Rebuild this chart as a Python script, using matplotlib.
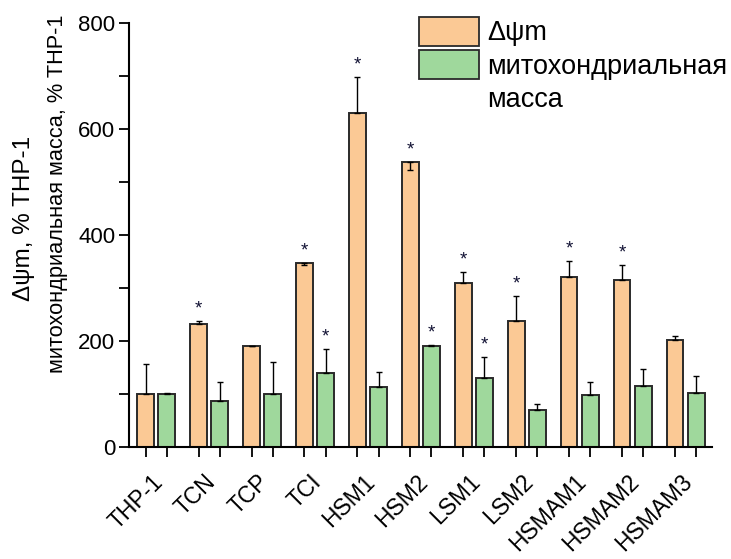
import matplotlib
matplotlib.use("Agg")
import matplotlib.pyplot as plt
import matplotlib.transforms as mtransforms
from matplotlib.patches import Rectangle
import numpy as np

plt.rcParams['font.family'] = ['Liberation Sans', 'DejaVu Sans']

categories = ["THP-1", "TCN", "TCP", "TCI", "HSM1", "HSM2", "LSM1", "LSM2",
              "HSMAM1", "HSMAM2", "HSMAM3"]
dpsi = [100, 232, 190, 348, 630, 538, 310, 238, 320, 315, 201]
dpsi_err_up = [56, 6, 0, 0, 68, 0, 20, 46, 31, 28, 8]
dpsi_err_down = [0, 0, 0, 5, 0, 16, 0, 0, 0, 0, 0]
mass = [100, 86, 100, 140, 113, 191, 130, 70, 98, 115, 101]
mass_err_up = [1, 36, 60, 44, 29, 1, 39, 11, 24, 31, 32]
mass_err_down = [0, 0, 0, 0, 0, 0, 0, 0, 0, 0, 0]
sig_dpsi = [False, True, False, True, True, True, True, True, True, True, False]
sig_mass = [False, False, False, True, False, True, True, False, False, False, False]

label_dpsi = "Δψm"
label_mass = "митохондриальная\nмасса"
ylabel_lines = ["Δψm, % THP-1", "митохондриальная масса, % THP-1"]

c_or = "#FBC995"
c_gr = "#9FD89C"
edge = "#2a2a2a"

fig = plt.figure(figsize=(7.31, 5.59), dpi=100)
ax = fig.add_axes([129.3 / 731, 1 - 446.7 / 559, (712 - 129.3) / 731, (446.7 - 23.3) / 559])

x = np.arange(len(categories))
w = 0.317
off = 0.2
ax.bar(x - off, dpsi, w, color=c_or, edgecolor=edge, linewidth=1.4, zorder=2)
ax.bar(x + off, mass, w, color=c_gr, edgecolor=edge, linewidth=1.4, zorder=2)
ax.errorbar(x - off, dpsi, yerr=[dpsi_err_down, dpsi_err_up], fmt='none',
            ecolor='black', elinewidth=1.0, capsize=2.5, capthick=1.0, zorder=3)
ax.errorbar(x + off, mass, yerr=[mass_err_down, mass_err_up], fmt='none',
            ecolor='black', elinewidth=1.0, capsize=2.5, capthick=1.0, zorder=3)

for i in range(len(categories)):
    if sig_dpsi[i]:
        top = dpsi[i] + dpsi_err_up[i]
        ax.annotate("*", (x[i] - off, top), xytext=(0, 2.5), textcoords='offset points',
                    ha='center', va='bottom', fontsize=13.5, color='#111133')
    if sig_mass[i]:
        top = mass[i] + mass_err_up[i]
        ax.annotate("*", (x[i] + off, top), xytext=(0, 2.5), textcoords='offset points',
                    ha='center', va='bottom', fontsize=13.5, color='#111133')

ax.set_xlim(-0.51, 10.5)
ax.set_ylim(0, 800)
ax.set_yticks([0, 200, 400, 600, 800])
ax.set_yticks([100, 300, 500, 700], minor=True)
ax.tick_params(axis='y', which='both', direction='out', length=7, width=1.3,
               labelsize=16, pad=3)
ax.set_xticks(x)
ax.set_xticklabels(categories, rotation=45, ha='right', rotation_mode='anchor', fontsize=16.5)
ax.set_xticks(np.concatenate([x - off, x + off]), minor=True)
ax.tick_params(axis='x', which='major', length=0, pad=17)
ax.tick_params(axis='x', which='minor', direction='out', length=7, width=1.3)
shift = mtransforms.ScaledTranslation(-0.05, 0, fig.dpi_scale_trans)
for lab in ax.get_xticklabels():
    lab.set_transform(lab.get_transform() + shift)

for s in ['top', 'right']:
    ax.spines[s].set_visible(False)
for s in ['left', 'bottom']:
    ax.spines[s].set_linewidth(1.5)

ax.text(-0.1807, 0.540, ylabel_lines[0], transform=ax.transAxes, rotation=90,
        ha='center', va='center', fontsize=17.5)
ax.text(-0.124, 0.597, ylabel_lines[1], transform=ax.transAxes, rotation=90,
        ha='center', va='center', fontsize=15.7)

# legend drawn manually
def fx(px):
    return px / 731
def fy(py):
    return 1 - py / 559
fig.patches.append(Rectangle((fx(419.3), fy(46)), fx(479) - fx(419.3), fy(16.7) - fy(46),
                             transform=fig.transFigure, facecolor=c_or, edgecolor=edge, linewidth=1.3))
fig.patches.append(Rectangle((fx(419.3), fy(79.3)), fx(479) - fx(419.3), fy(50) - fy(79.3),
                             transform=fig.transFigure, facecolor=c_gr, edgecolor=edge, linewidth=1.3))
fig.text(fx(487), fy(40), label_dpsi, fontsize=19.5, va='baseline', ha='left')
for k, line in enumerate(label_mass.split("\n")):
    fig.text(fx(487), fy(74 + 33.3 * k), line, fontsize=19.5, va='baseline', ha='left')

fig.savefig("out.png", dpi=100)
